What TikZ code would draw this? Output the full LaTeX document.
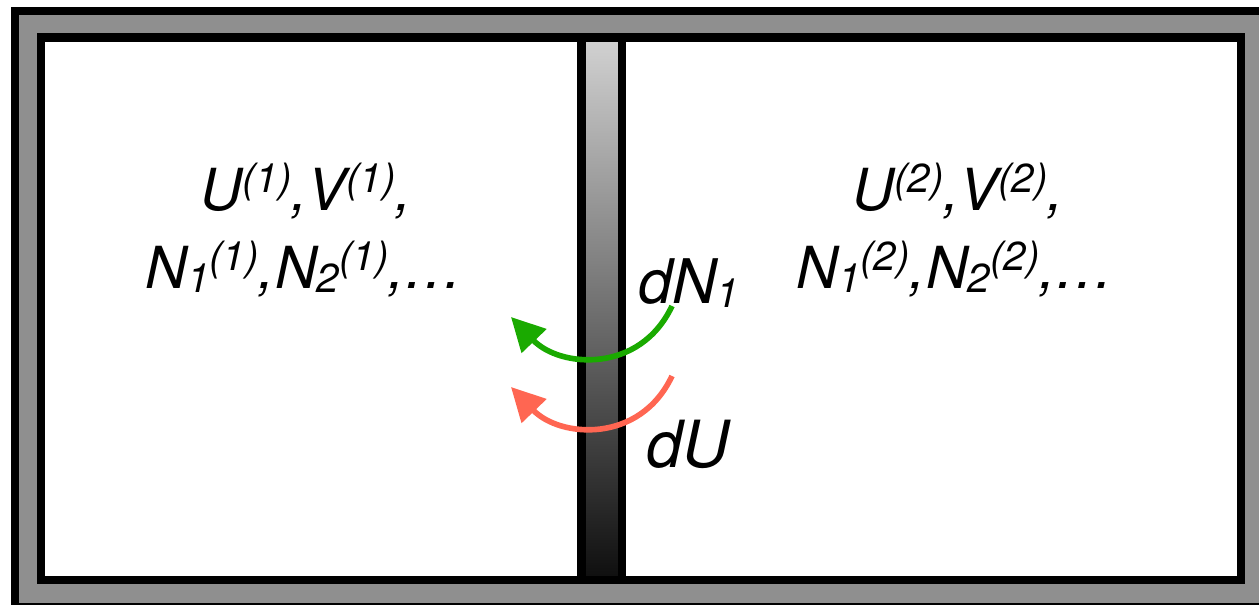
\documentclass[tikz,border=0pt]{standalone}
\usepackage{fontspec}
\setmainfont{TeX Gyre Heros}
\usepackage{tikz}
\usetikzlibrary{arrows.meta, positioning}
\definecolor{wallgray}{RGB}{143,143,143}
\definecolor{flowgreen}{RGB}{26,170,0}
\definecolor{flowred}{RGB}{255,102,82}
\definecolor{pistontop}{RGB}{210,210,210}
\definecolor{pistonbot}{RGB}{14,14,14}
\newcommand{\hi}[1]{\raisebox{0.3em}{\fontsize{23}{23}\selectfont #1}}
\newcommand{\lo}[1]{\raisebox{-0.08em}{\fontsize{23}{23}\selectfont #1}}

\begin{document}
\begin{tikzpicture}[x=0.02cm, y=-0.02cm,
  bigtxt/.style={font=\fontsize{33}{40}\selectfont\itshape, inner sep=0pt},
  flowarrow/.style={line width=3.2pt, -{Triangle[length=19pt, width=19pt]}}]

\useasboundingbox (0,0) rectangle (1259,605);
\clip (0,0) rectangle (1259,605);

% Outer wall
\draw[line width=4.5pt, fill=wallgray] (15,11) rectangle (1267,607);

% Inner box
\draw[line width=4.8pt, fill=white] (41,37.5) rectangle (1241,580);

% Partition wall
\draw[line width=4.8pt, top color=pistontop, bottom color=pistonbot]
  (581.5,37.5) rectangle (622,580);

% Exchange arrows
\coordinate (gstart) at (672,306);
\coordinate (gtip) at (511,317);
\coordinate (rstart) at (672,376);
\coordinate (rtip) at (511,387);
\draw[flowarrow, flowgreen] (gstart) .. controls (640,374) and (560,368) .. (gtip);
\draw[flowarrow, flowred] (rstart) .. controls (640,444) and (560,438) .. (rtip);

% Subsystem 1
\node[bigtxt, anchor=base] (sysatop) at (306,210) {U\hi{(1)},V\hi{(1)},};
\node[bigtxt, anchor=base] (sysabot) at (304,288) {N\lo{1}\hi{(1)},N\lo{2}\hi{(1)},…};

% Subsystem 2
\node[bigtxt, anchor=base] (sysbtop) at (958,210) {U\hi{(2)},V\hi{(2)},};
\node[bigtxt, anchor=base] (sysbbot) at (955,288) {N\lo{1}\hi{(2)},N\lo{2}\hi{(2)},…};

% Flow labels
\node[bigtxt, anchor=base west, font=\fontsize{35}{40}\selectfont\itshape] (dn) at (638,303) {dN\lo{1}};
\node[bigtxt, anchor=base west, font=\fontsize{37}{40}\selectfont\itshape] (du) at (646,467) {dU};

\end{tikzpicture}
\end{document}
